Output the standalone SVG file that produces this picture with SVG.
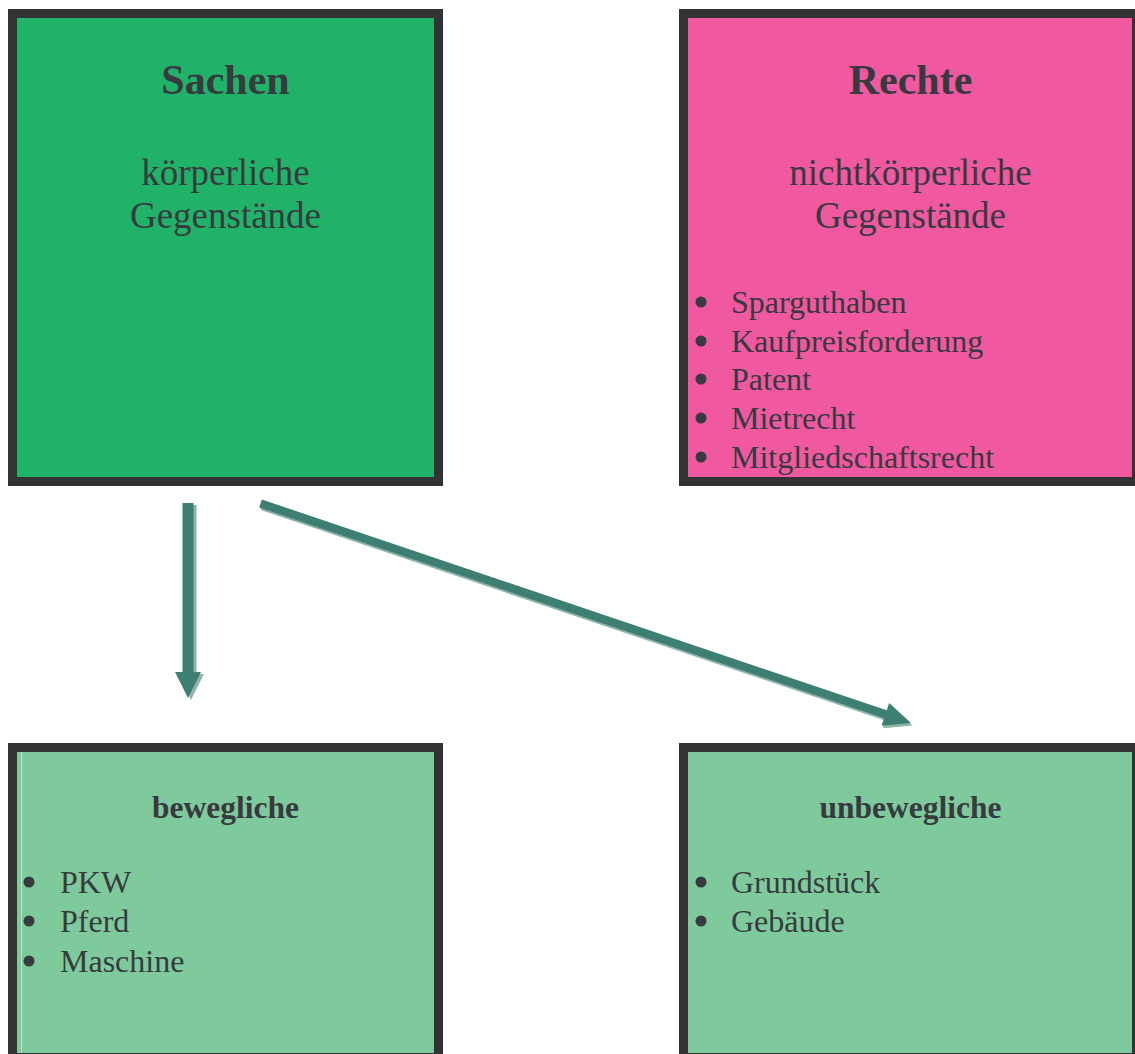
<svg xmlns="http://www.w3.org/2000/svg" width="1135" height="1054" viewBox="0 0 1135 1054">
<style>
.box{stroke:#333336;stroke-width:9}
.t{font-family:"Liberation Serif","Times New Roman",serif;fill:#373a3e}
.h1{font-size:42px;font-weight:bold;text-anchor:middle}
.sub{font-size:37px;text-anchor:middle}
.h2{font-size:31.5px;font-weight:bold;text-anchor:middle}
.li{font-size:32px}
.dot{fill:#373a3e}
.arr{fill:#3d7f73}
.sh{fill:#8fb5ab}
</style>
<rect width="1135" height="1054" fill="#ffffff"/>
<g id="sachen">
<rect class="box" x="12.5" y="13.5" width="426" height="468" fill="#21b26a"/>
<text class="t h1" x="225.5" y="94">Sachen</text>
<text class="t sub" x="225.5" y="185">körperliche</text>
<text class="t sub" x="225.5" y="228">Gegenstände</text>
</g>
<g id="rechte">
<rect class="box" x="683.5" y="13.5" width="453" height="468" fill="#f0589f"/>
<text class="t h1" x="910.5" y="94">Rechte</text>
<text class="t sub" x="910.5" y="185">nichtkörperliche</text>
<text class="t sub" x="910.5" y="228">Gegenstände</text>
<circle class="dot" cx="701" cy="302" r="5.5"/>
<circle class="dot" cx="701" cy="341" r="5.5"/>
<circle class="dot" cx="701" cy="379" r="5.5"/>
<circle class="dot" cx="701" cy="418" r="5.5"/>
<circle class="dot" cx="701" cy="457" r="5.5"/>
<text class="t li" x="731" y="313">Sparguthaben</text>
<text class="t li" x="731" y="352">Kaufpreisforderung</text>
<text class="t li" x="731" y="390">Patent</text>
<text class="t li" x="731" y="429">Mietrecht</text>
<text class="t li" x="731" y="468">Mitgliedschaftsrecht</text>
</g>
<g id="bewegliche">
<rect class="box" x="12.5" y="747.5" width="426" height="310" fill="#7eca9c"/>
<line x1="21.5" y1="752" x2="21.5" y2="1053" stroke="#b8e4c6" stroke-width="1"/>
<text class="t h2" x="225.5" y="818">bewegliche</text>
<circle class="dot" cx="29" cy="882" r="5.5"/>
<circle class="dot" cx="29" cy="921" r="5.5"/>
<circle class="dot" cx="29" cy="961" r="5.5"/>
<text class="t li" x="60" y="893">PKW</text>
<text class="t li" x="60" y="932">Pferd</text>
<text class="t li" x="60" y="972">Maschine</text>
</g>
<g id="unbewegliche">
<rect class="box" x="683.5" y="747.5" width="453" height="310" fill="#7eca9c"/>
<text class="t h2" x="910.5" y="818">unbewegliche</text>
<circle class="dot" cx="701" cy="882" r="5.5"/>
<circle class="dot" cx="701" cy="921" r="5.5"/>
<text class="t li" x="731" y="893">Grundstück</text>
<text class="t li" x="731" y="932">Gebäude</text>
</g>
<g id="connectors">
<g transform="translate(191,505) rotate(90)">
<polygon class="sh" points="0,-5.5 169,-5.5 169,-13 195,0 169,13 169,5.5 0,5.5"/>
</g>
<g transform="translate(188,503) rotate(90)">
<polygon class="arr" points="0,-5.5 169,-5.5 169,-13 195,0 169,13 169,5.5 0,5.5"/>
</g>
<g transform="translate(262,506) rotate(18.64)">
<polygon class="sh" points="0,-4.2 659.5,-4.2 659.5,-12 686.5,0 659.5,12 659.5,4.2 0,4.2"/>
</g>
<g transform="translate(260.5,503.5) rotate(18.64)">
<polygon class="arr" points="0,-4.2 659.5,-4.2 659.5,-12 686.5,0 659.5,12 659.5,4.2 0,4.2"/>
</g>
</g>
</svg>
